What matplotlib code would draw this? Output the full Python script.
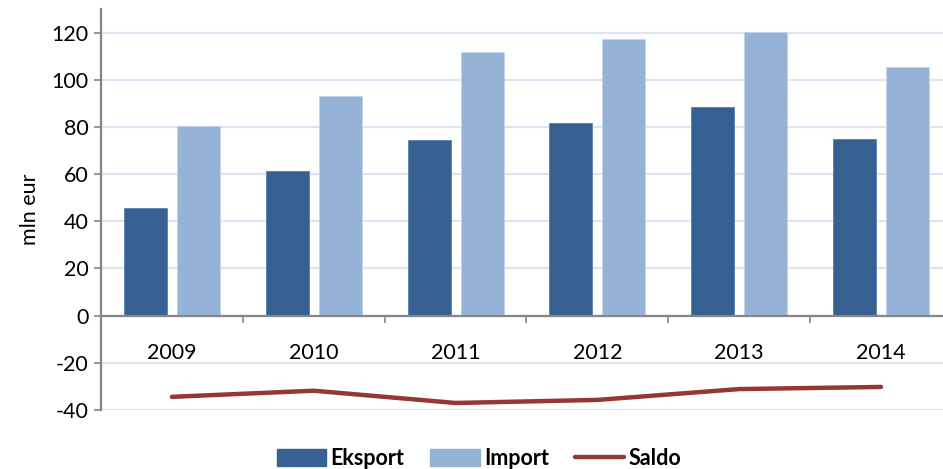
import numpy as np
import matplotlib.pyplot as plt
from matplotlib.patches import Patch
from matplotlib.lines import Line2D

plt.rcParams['font.family'] = ['Lato', 'DejaVu Sans']
plt.rcParams['axes.unicode_minus'] = False

years = ['2009', '2010', '2011', '2012', '2013', '2014']
eksport = [45.8, 61.3, 74.6, 81.8, 88.6, 75.0]
import_ = [80.4, 93.1, 111.8, 117.2, 120.1, 105.3]
saldo = [-34.5, -31.9, -37.1, -35.8, -31.2, -30.3]

c_eks = '#376092'
c_imp = '#95b3d7'
c_sal = '#953735'
c_axis = '#868686'
c_grid = '#dce6f2'

fig = plt.figure(figsize=(9.43, 4.69), dpi=100)
ax = fig.add_axes([0.1071, 0.1262, 0.9024, 0.8546])

x = np.arange(len(years))
w = 0.303
off = 0.187

ax.bar(x - off, eksport, w, color=c_eks, edgecolor='#5b7fae', linewidth=0.6, zorder=3)
ax.bar(x + off, import_, w, color=c_imp, edgecolor='#c3d3e8', linewidth=0.6, zorder=3)
ax.plot(x, saldo, color=c_sal, linewidth=3.2, solid_capstyle='round', zorder=4)

ax.set_xlim(-0.5, 5.5)
ax.set_ylim(-40, 130)
ax.set_yticks(np.arange(-40, 121, 20))
ax.yaxis.grid(True, color=c_grid, linewidth=1.6, zorder=0)

ax.spines['top'].set_visible(False)
ax.spines['right'].set_visible(False)
ax.spines['left'].set_color(c_axis)
ax.spines['left'].set_linewidth(1.6)
ax.spines['bottom'].set_position(('data', 0))
ax.spines['bottom'].set_color(c_axis)
ax.spines['bottom'].set_linewidth(1.6)
ax.spines['bottom'].set_zorder(5)

ax.set_xticks(x)
ax.set_xticklabels(years)
ax.set_xticks(np.arange(-0.5, 5.6, 1), minor=True)
ax.tick_params(axis='x', which='major', length=0, pad=20, labelsize=15.5)
ax.tick_params(axis='x', which='minor', length=5, width=1.2, color=c_axis, direction='out')
ax.tick_params(axis='y', length=5, width=1.2, color=c_axis, labelsize=15.5, pad=4)

ax.set_ylabel('mln eur', fontsize=15.5, labelpad=8)

handles = [Patch(color=c_eks), Patch(color=c_imp),
           Line2D([0], [0], color=c_sal, linewidth=3.2, solid_capstyle='round')]
fig.legend(handles, ['Eksport', 'Import', 'Saldo'], loc='center',
           bbox_to_anchor=(0.508, 0.022), ncol=3, frameon=False,
           prop={'weight': 'bold', 'size': 15.5}, handlelength=2.3,
           handleheight=0.8, handletextpad=0.2, columnspacing=1.2)

fig.savefig('out.png', dpi=100)
